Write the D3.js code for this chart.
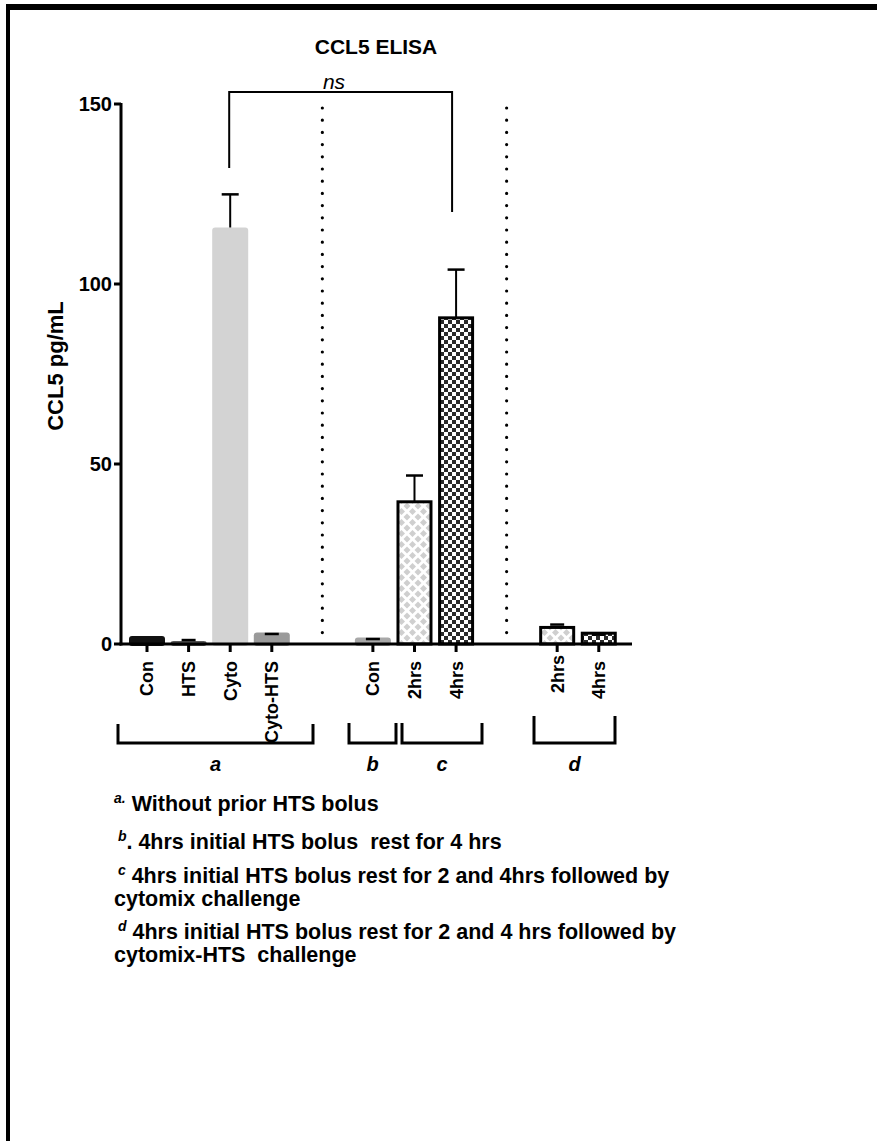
<!DOCTYPE html>
<html><head><meta charset="utf-8">
<script src="https://cdn.jsdelivr.net/npm/d3@7"></script>
<style>
html,body{margin:0;padding:0;background:#fff;}
svg{display:block;font-family:"Liberation Sans",Arial,sans-serif;}
</style></head>
<body>
<svg id="chart" width="877" height="1141"></svg>
<script>
// ---- data ----
const categories = ["Con","HTS","Cyto","Cyto-HTS","Con","2hrs","4hrs","2hrs","4hrs"];
const groupOfBar = [0,0,0,0,1,1,1,2,2];
const means  = [2.2, 0.8, 115.7, 3.2, 1.8, 39.5, 90.6, 4.6, 3.0];
const errors = [0.0, 0.3, 9.2, 0.0, 0.0, 7.3, 13.4, 0.8, 0.0];
const fills  = ["#111111","#5a5a5a","#d3d3d3","#9a9a9a","#a8a8a8","url(#diamond)","url(#checker)","url(#diamond)","url(#checker)"];
const outlined = [false,false,false,false,false,true,true,true,true];
const yTicks = [0,50,100,150];
const title = "CCL5 ELISA";
const yTitle = "CCL5 pg/mL";
const brackets = [
  {label:"a", from:0, to:3},
  {label:"b", from:4, to:4},
  {label:"c", from:5, to:6},
  {label:"d", from:7, to:8}
];
const sigPair = {from:2, to:6, label:"ns"};
const notes = [
  {sup:"a.", text:" Without prior HTS bolus"},
  {sup:" b", text:". 4hrs initial HTS bolus  rest for 4 hrs"},
  {sup:" c", text:" 4hrs initial HTS bolus rest for 2 and 4hrs followed by"},
  {sup:"", text:"cytomix challenge"},
  {sup:" d", text:" 4hrs initial HTS bolus rest for 2 and 4 hrs followed by"},
  {sup:"", text:"cytomix-HTS  challenge"}
];

// ---- layout ----
const svg = d3.select("#chart");
const axisY0 = 644;
const y = d3.scaleLinear().domain([0,150]).range([axisY0,104]);
const gapSlots = 1.43;
const slot = d3.scaleLinear().domain([0,1]).range([147,188.6]);
const xc = i => slot(i + groupOfBar[i]*gapSlots);
const axisLeft = 121, axisRight = 632;

// patterns
const defs = svg.append("defs");
const pd = defs.append("pattern").attr("id","diamond").attr("patternUnits","userSpaceOnUse")
  .attr("width",11).attr("height",11);
pd.append("rect").attr("width",11).attr("height",11).attr("fill","#fff");
pd.append("path").attr("d","M5.5,2 L9,5.5 L5.5,9 L2,5.5 Z M0,-3.5 L3.5,0 L0,3.5 L-3.5,0 Z M11,-3.5 L14.5,0 L11,3.5 L7.5,0 Z M0,7.5 L3.5,11 L0,14.5 L-3.5,11 Z M11,7.5 L14.5,11 L11,14.5 L7.5,11 Z")
  .attr("fill","#cfcfcf");
const pc = defs.append("pattern").attr("id","checker").attr("patternUnits","userSpaceOnUse")
  .attr("width",8).attr("height",8);
pc.append("rect").attr("width",8).attr("height",8).attr("fill","#fff");
pc.append("rect").attr("width",4).attr("height",4).attr("fill","#2a2a2a");
pc.append("rect").attr("x",4).attr("y",4).attr("width",4).attr("height",4).attr("fill","#2a2a2a");

// frame
svg.append("line").attr("x1",6).attr("x2",877).attr("y1",7).attr("y2",7).attr("stroke","#000").attr("stroke-width",6);
svg.append("line").attr("x1",8).attr("x2",8).attr("y1",4).attr("y2",1141).attr("stroke","#000").attr("stroke-width",4);

// title
svg.append("text").attr("x",376).attr("y",54).attr("text-anchor","middle")
  .attr("font-weight","bold").attr("font-size",21).text(title);

// dotted separators
[3,6].forEach(i => {
  const xm = (xc(i)+xc(i+1))/2;
  svg.append("line").attr("x1",xm).attr("x2",xm).attr("y1",108).attr("y2",638)
    .attr("stroke","#000").attr("stroke-width",3.2).attr("stroke-linecap","round")
    .attr("stroke-dasharray","0 12.2");
});

// bars
const bw = 36;
categories.forEach((c,i) => {
  const cx = xc(i);
  if (outlined[i]) {
    svg.append("rect").attr("x",cx-16.5).attr("width",33)
      .attr("y",y(means[i])).attr("height",axisY0-y(means[i]))
      .attr("fill",fills[i]).attr("stroke","#000").attr("stroke-width",3);
  } else {
    svg.append("rect").attr("x",cx-bw/2).attr("width",bw)
      .attr("y",y(means[i])).attr("height",axisY0-y(means[i])+2)
      .attr("rx",3).attr("fill",fills[i]);
  }
  // error bar
  const top = y(means[i]+errors[i]);
  const capW = (i===2||i===5||i===6) ? 17 : 14;
  if (errors[i] > 1) {
    svg.append("line").attr("x1",cx).attr("x2",cx).attr("y1",y(means[i])).attr("y2",top)
      .attr("stroke","#000").attr("stroke-width",2);
  }
  if (i !== 0) {
    const capY = errors[i] > 0 ? top : top + 1.5;
    svg.append("line").attr("x1",cx-capW/2).attr("x2",cx+capW/2).attr("y1",capY).attr("y2",capY)
      .attr("stroke","#000").attr("stroke-width",2.5);
  }
});

// y axis
svg.append("line").attr("x1",axisLeft).attr("x2",axisLeft).attr("y1",y(150)-1).attr("y2",axisY0+1.5)
  .attr("stroke","#000").attr("stroke-width",3);
yTicks.forEach(t => {
  svg.append("line").attr("x1",axisLeft-7).attr("x2",axisLeft).attr("y1",y(t)).attr("y2",y(t))
    .attr("stroke","#000").attr("stroke-width",3);
  svg.append("text").attr("x",axisLeft-9).attr("y",y(t)).attr("dy","0.36em")
    .attr("text-anchor","end").attr("font-weight","bold").attr("font-size",20).text(t);
});
svg.append("text").attr("transform",`translate(63,366) rotate(-90)`)
  .attr("text-anchor","middle").attr("font-weight","bold").attr("font-size",22).text(yTitle);

// x axis
svg.append("line").attr("x1",axisLeft-1.5).attr("x2",axisRight).attr("y1",axisY0).attr("y2",axisY0)
  .attr("stroke","#000").attr("stroke-width",3);
categories.forEach((c,i) => {
  const cx = xc(i);
  svg.append("line").attr("x1",cx).attr("x2",cx).attr("y1",axisY0).attr("y2",axisY0+8)
    .attr("stroke","#000").attr("stroke-width",3);
  const ly = (i===7) ? 655 : 661;
  svg.append("text").attr("transform",`translate(${cx},${ly}) rotate(-90)`)
    .attr("text-anchor","end").attr("dy","0.36em")
    .attr("font-weight","bold").attr("font-size",18).text(c);
});

// group brackets
const bracketSpec = [
  {x1:118, x2:313, top:724},
  {x1:349, x2:396, top:723},
  {x1:402, x2:482, top:723},
  {x1:534, x2:615, top:716}
];
brackets.forEach((b,k) => {
  const s = bracketSpec[k];
  svg.append("path").attr("d",`M${s.x1},${s.top} V743 H${s.x2} V${s.top}`)
    .attr("fill","none").attr("stroke","#000").attr("stroke-width",3);
  svg.append("text").attr("x",(s.x1+s.x2)/2).attr("y",771).attr("text-anchor","middle")
    .attr("font-weight","bold").attr("font-style","italic").attr("font-size",20).text(b.label);
});

// significance bracket
const sx1 = xc(sigPair.from)-1, sx2 = xc(sigPair.to)-4;
svg.append("path").attr("d",`M${sx1},168 V92 H${sx2} V212`)
  .attr("fill","none").attr("stroke","#000").attr("stroke-width",2);
svg.append("text").attr("x",334).attr("y",89).attr("text-anchor","middle")
  .attr("font-style","italic").attr("font-size",21).text(sigPair.label);

// notes
const noteY = [811, 849, 883, 906, 939, 962];
notes.forEach((n,k) => {
  const t = svg.append("text").attr("x",114).attr("y",noteY[k])
    .attr("font-weight","bold").attr("font-size",21.5).attr("xml:space","preserve");
  if (n.sup) {
    t.append("tspan").attr("font-size",14).attr("font-style","italic").attr("dy",-8).text(n.sup);
    t.append("tspan").attr("dy",8).text(n.text);
  } else {
    t.text(n.text);
  }
});
</script>
</body></html>
